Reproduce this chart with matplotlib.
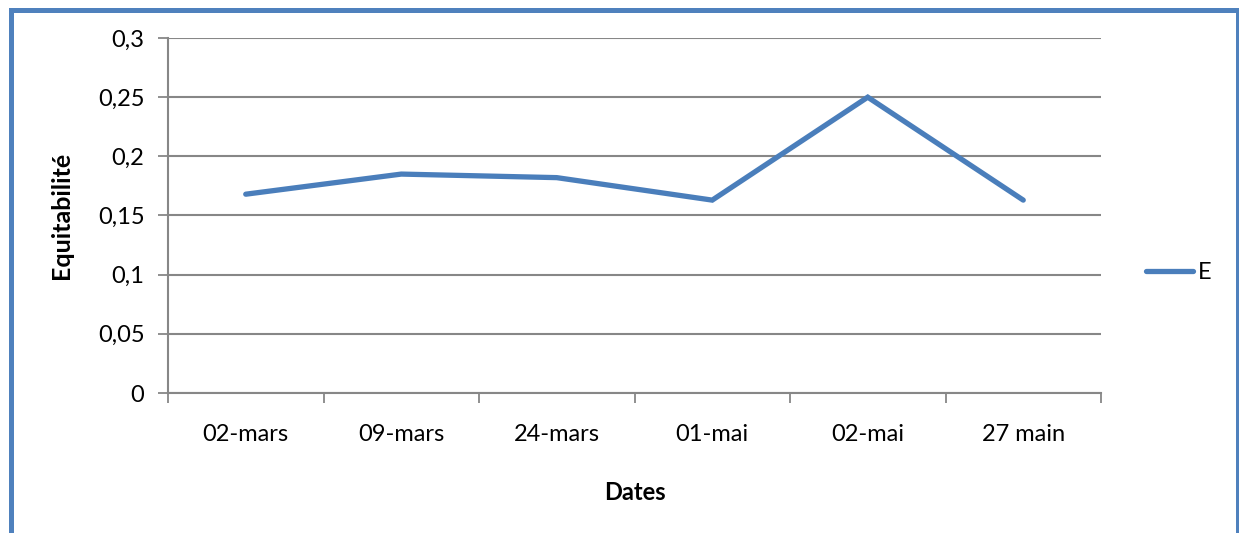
import matplotlib
matplotlib.use("Agg")
from matplotlib import pyplot as plt
from matplotlib.patches import Rectangle

dates = ["02-mars", "09-mars", "24-mars", "01-mai", "02-mai", "27 main"]
equitabilite = [0.168, 0.185, 0.182, 0.163, 0.250, 0.163]
yticks = [0, 0.05, 0.1, 0.15, 0.2, 0.25, 0.3]
ytick_labels = ["0", "0,05", "0,1", "0,15", "0,2", "0,25", "0,3"]

plt.rcParams['font.family'] = ['Lato', 'DejaVu Sans']
grid_col = '#878787'
line_col = '#4a7ebb'
fs = 17

fig = plt.figure(figsize=(12.39, 5.33), dpi=100)
ax = fig.add_axes([168/1239, 1-393/533, (1101-168)/1239, (393-38)/533])

# outer frame of the chart area, bottom edge runs off the page
fig.patches.append(Rectangle((10.5/1239, -0.2), (1237.5-10.5)/1239, 1.2-10/533,
                             transform=fig.transFigure, fill=False,
                             edgecolor='#4f81bd', linewidth=3.6))

x = [i + 0.5 for i in range(len(dates))]
ax.plot(x, equitabilite, color=line_col, linewidth=3.8, solid_joinstyle='miter',
        solid_capstyle='round', label='E')

ax.set_xlim(0, len(dates))
ax.set_ylim(0, 0.3)
ax.set_yticks(yticks)
ax.set_yticklabels(ytick_labels)
ax.set_xticks(range(len(dates) + 1))
ax.set_xticklabels([])
ax.set_xticks(x, minor=True)
ax.set_xticklabels(dates, minor=True)
ax.tick_params(axis='x', which='minor', length=0, pad=22, labelsize=fs)
ax.tick_params(axis='x', which='major', length=7, width=1.3, color=grid_col)
ax.tick_params(axis='y', length=7, width=1.3, color=grid_col, labelsize=fs, pad=10)

ax.grid(axis='y', color=grid_col, linewidth=1.5)
ax.set_axisbelow(True)
for s in ['top', 'right']:
    ax.spines[s].set_visible(False)
for s in ['left', 'bottom']:
    ax.spines[s].set_color(grid_col)
    ax.spines[s].set_linewidth(1.5)

ax.set_xlabel('Dates', fontsize=fs, fontweight='bold', labelpad=26)
ax.set_ylabel('Equitabilité', fontsize=fs + 1, fontweight='bold', labelpad=18)

ax.legend(loc='center left', bbox_to_anchor=(1.025, 0.34), frameon=False,
          fontsize=fs, handlelength=2.0, handletextpad=0.2)

fig.savefig('out.png', dpi=100)
